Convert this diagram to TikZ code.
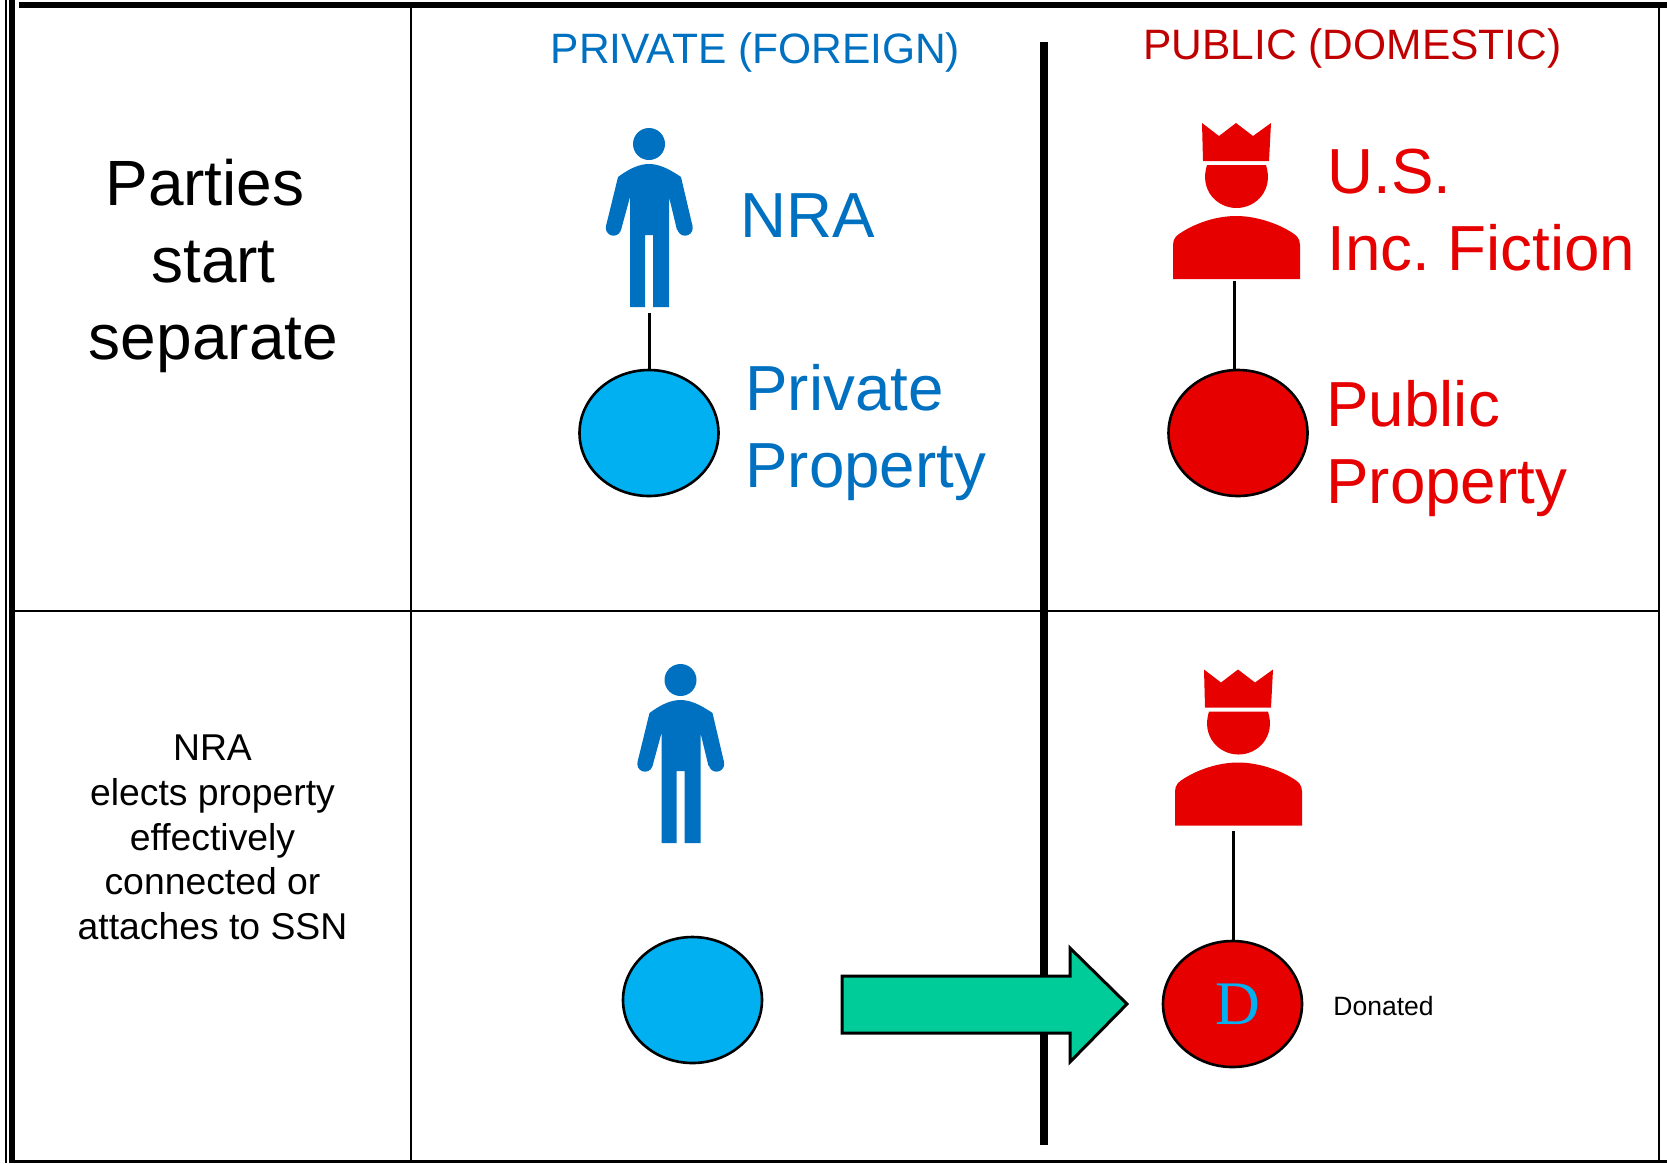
\documentclass[tikz,border=0pt]{standalone}
\usepackage{fontspec}
\setmainfont{Liberation Sans}
\newfontfamily\serifD{Liberation Serif}
\usetikzlibrary{shapes.geometric}
\definecolor{nrablue}{HTML}{0070C0}
\definecolor{ballblue}{HTML}{00B0F0}
\definecolor{usred}{HTML}{E60000}
\definecolor{headred}{HTML}{C00000}
\definecolor{arrowgreen}{HTML}{00CC99}

\begin{document}
\frenchspacing
\begin{tikzpicture}[x=1pt,y=-1pt,thick,
    ball node/.style={ellipse,draw,line width=2.6pt,minimum width=139pt,minimum height=126pt,inner sep=0pt},
    big text/.style={font=\fontsize{63.7}{77}\selectfont,align=left,inner sep=0pt},
    head text/.style={font=\fontsize{42.5}{50}\selectfont,inner sep=0pt,anchor=base},
    side text/.style={align=center,inner sep=0pt,anchor=base},
    table line/.style={line width=2.6pt},
    man/.pic={
        \fill[nrablue] (649,144) circle (16);
        \fill[nrablue] (613.5,228) circle (7.7) (685,228) circle (7.7);
        \fill[nrablue] (618,177) .. controls (630,168) and (640,164) .. (649,164)
            .. controls (658,164) and (668,168) .. (681,177)
            -- (692.5,226) -- (677,230) -- (669,197) -- (669,307) -- (653,307) -- (653,235)
            -- (645,235) -- (645,307) -- (630,307) -- (630,197) -- (621,230) -- (606,226) -- cycle;
    },
    king/.pic={
        \fill[usred] (1202,123) -- (1219,136) -- (1236,123) -- (1253,136) -- (1271,123)
            -- (1269,161) -- (1203,161) -- cycle;
        \fill[usred] (1207,165) -- (1266,165) .. controls (1274,190) and (1256,208) .. (1236.5,208)
            .. controls (1217,208) and (1199,190) .. (1207,165) -- cycle;
        \fill[usred] (1173,279) -- (1173,245) .. controls (1173,238) and (1177,235) .. (1182,232)
            .. controls (1198,222) and (1218,216) .. (1236,216)
            .. controls (1254,216) and (1275,222) .. (1291,232)
            .. controls (1296,235) and (1300,238) .. (1300,245) -- (1300,279) -- cycle;
    }]

    \useasboundingbox (0,0) rectangle (1667,1163);

    % table
    \draw[line width=1.2pt] (6,0) -- (6,1163);
    \draw[line width=6pt] (12,0) -- (12,1163);
    \draw[line width=5.5pt] (19,5) -- (1667,5);
    \draw[table line] (12,611) -- (1659,611);
    \draw[table line] (411,5) -- (411,1162);
    \draw[table line] (1659,5) -- (1659,1162);
    \draw[line width=3pt] (12,1161.5) -- (1667,1161.5);

    \coordinate (top) at (1044,42);
    \coordinate (bottom) at (1044,1145);
    \draw[line width=8pt] (top) -- (bottom);

    % top row
    \node[head text,text=nrablue] (private) at (755.5,63) {PRIVATE (FOREIGN)};
    \node[head text,text=headred] (public) at (1352.5,59) {PUBLIC (DOMESTIC)};
    \node[side text,font=\fontsize{64}{77}\selectfont] (parties) at (213.5,359) {Parties\hspace*{17pt}\\start\\separate};

    \pic (man1) at (0,0) {man};
    \pic (king1) at (0,0) {king};
    \coordinate (foot1) at (649,313);
    \coordinate (foot2) at (1234,281);
    \node[ball node,fill=ballblue] (ball1) at (649,433) {};
    \node[ball node,fill=usred] (ball2) at (1238,433) {};
    \path (foot1) edge[line width=3pt] (ball1);
    \path (foot2) edge[line width=3pt] (foot2 |- ball2.north);

    \node[big text,text=nrablue,anchor=base west] (nra) at (740,237) {NRA};
    \node[big text,text=nrablue,anchor=base west] (prop1) at (745,487.5) {Private\\Property};
    \node[big text,text=usred,anchor=base west] (us) at (1327,270.5) {U.S.\\Inc. Fiction};
    \node[big text,text=usred,anchor=base west] (prop2) at (1326,503) {Public\\Property};

    % bottom row
    \node[side text,font=\fontsize{37.33}{44.7}\selectfont] (elects) at (212.5,939.5) {NRA\\elects property\\effectively\\connected or\\attaches to SSN};

    \pic (man2) at (31.5,536) {man};
    \pic (king2) at (2,546.5) {king};
    \coordinate (foot3) at (1233,831);
    \node[ball node,fill=ballblue] (ball3) at (692.5,1000) {};
    \node[ball node,fill=usred,font=\serifD\fontsize{62}{62}\selectfont,text=ballblue] (ball4) at (1232.5,1004) {\hspace*{10pt}D};
    \path (foot3) edge[line width=3pt] (foot3 |- ball4.north);
    \node[inner sep=0pt,anchor=base west,font=\fontsize{26.5}{32}\selectfont] (donated) at (1333,1015) {Donated};

    \fill[arrowgreen,draw=black,line width=3pt] (842,976) -- (1070,976) -- (1070,948) -- (1127,1004)
        -- (1070,1062) -- (1070,1033) -- (842,1033) -- cycle;
\end{tikzpicture}
\end{document}
